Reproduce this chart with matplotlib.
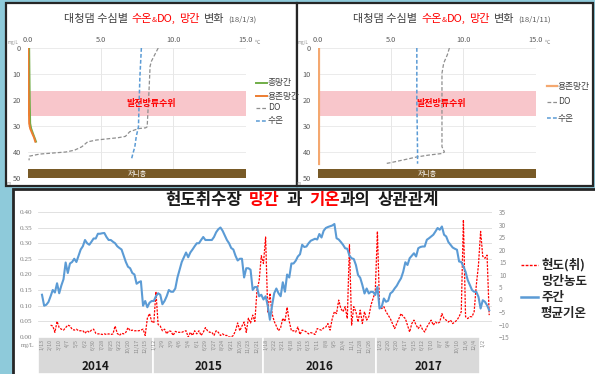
import numpy as np
import matplotlib
matplotlib.use('Agg')
import matplotlib.pyplot as plt
from matplotlib.patches import Rectangle
from matplotlib.lines import Line2D

plt.rcParams['font.family'] = ['Noto Sans CJK KR', 'DejaVu Sans']

# ---------------- depth profiles (18/1/3) ----------------
p1_tmn_depth = [0, 10, 20, 29, 31, 33, 34.5, 36]
p1_tmn = [0.08, 0.10, 0.12, 0.15, 0.22, 0.35, 0.45, 0.55]
p1_dmn_depth = [0, 10, 20, 29, 31, 33, 34.5, 36]
p1_dmn = [0.02, 0.03, 0.05, 0.08, 0.15, 0.30, 0.42, 0.50]
p1_do_depth = [0, 3.9, 5, 7, 14.8, 30.3, 30.7, 31, 32.2, 34, 34.5, 35.4, 36.1,
               38, 39.3, 40, 40.8, 41.6, 43.2]
p1_do = [8.96, 8.6, 8.5, 8.4, 8.34, 8.2, 8.1, 7.6, 7.0, 6.7, 6.2, 4.7, 4.1,
         3.7, 3.2, 2.6, 0.8, 0.1, 0.07]
p1_wt_depth = [0, 11, 20, 30.3, 34, 38, 41, 43.2]
p1_wt = [7.8, 7.7, 7.65, 7.6, 7.45, 7.35, 7.2, 7.1]

# ---------------- depth profiles (18/1/11) ----------------
p2_dmn_depth = [0, 44.5]
p2_dmn = [0.05, 0.05]
p2_do_depth = [0, 2.6, 5.8, 9.7, 38, 40, 40.6, 41.2, 41.9, 42.9, 44.1, 44.5]
p2_do = [9.04, 8.9, 8.65, 8.53, 8.53, 8.7, 8.5, 7.6, 6.8, 6.0, 5.0, 4.6]
p2_wt_depth = [0, 20, 40, 44.5]
p2_wt = [6.8, 6.8, 6.85, 6.85]

profile_xticks = [0, 5, 10, 15]
profile_xlabels = ['0.0', '5.0', '10.0', '15.0']
profile_yticks = [0, 10, 20, 30, 40, 50]

# ---------------- weekly series 2014-2017 ----------------
air_temp = [
    1.9, -2.5, -2.1, -1.0, 1.3, 3.8, 2.8, 6.5, 2.5, 5.6,
    8.1, 14.8, 10.6, 14.4, 15.0, 16.3, 15.0, 17.5, 20.0, 21.3,
    23.8, 22.5, 21.9, 23.1, 24.4, 24.4, 26.3, 26.3, 26.5, 26.6,
    25.0, 23.8, 23.8, 23.1, 22.5, 21.3, 20.6, 20.0, 17.5, 15.0,
    13.1, 12.5, 10.6, 10.0, 6.3, 6.9, 7.3, -2.5, -0.6, -3.1,
    -1.3, -0.6, -0.6, 1.3, 2.5, 1.9, -1.9, -0.6, 1.3, 3.8,
    3.1, 3.1, 4.4, 8.8, 11.9, 15.0, 16.9, 18.8, 16.9, 18.8,
    20.0, 21.3, 22.5, 22.5, 23.8, 25.0, 23.8, 23.8, 23.8, 23.8,
    25.0, 26.9, 28.1, 28.8, 27.5, 25.6, 23.8, 22.5, 20.6, 20.0,
    17.5, 15.6, 16.3, 16.3, 8.8, 12.5, 12.5, 11.9, 3.8, 5.0,
    5.0, 1.3, 1.9, 0.0, 1.3, -2.5, -8.1, -2.5, 2.5, 4.4,
    2.5, 1.3, 6.9, 3.1, 10.0, 8.8, 14.4, 14.4, 15.5, 17.2,
    18.1, 21.9, 21.0, 21.2, 22.5, 23.5, 23.9, 24.3, 24.0, 26.2,
    24.8, 27.5, 28.6, 29.0, 29.3, 29.6, 30.2, 24.5, 24.0, 23.0,
    21.9, 20.5, 20.3, 17.5, 16.5, 16.2, 13.8, 9.8, 8.7, 5.8,
    2.4, 4.4, 2.4, 3.1, 3.0, 1.8, 5.1, -3.6, -2.9, 0.4,
    -0.9, -0.5, 2.4, 3.1, 4.4, 5.5, 7.1, 8.5, 11.1, 14.9,
    13.8, 16.5, 17.5, 18.5, 17.2, 20.5, 21.0, 21.2, 21.2, 23.9,
    24.5, 25.2, 25.9, 27.2, 28.6, 27.9, 29.2, 25.9, 25.2, 23.0,
    21.9, 20.8, 20.3, 19.9, 15.2, 15.0, 13.2, 11.1, 7.8, 5.8,
    3.8, 3.1, 3.1, 1.1, -3.6, -0.3, -0.9, -2.3, -4.3,
]

mn_conc = [
    None, None, None, None, 0.038, 0.035, 0.015, 0.050, 0.030, 0.025,
    0.022, 0.030, 0.038, 0.035, 0.025, 0.022, 0.025, 0.020, 0.020, 0.020,
    0.012, 0.020, 0.015, 0.022, 0.025, 0.012, 0.010, 0.010, 0.008, 0.010,
    0.008, 0.010, 0.008, 0.010, 0.035, 0.012, 0.005, 0.012, 0.010, 0.015,
    0.030, 0.020, 0.022, 0.020, 0.020, 0.020, 0.022, 0.025, 0.005, 0.060,
    0.075, 0.050, 0.045, 0.145, 0.040, 0.035, 0.020, 0.025, 0.010, 0.020,
    0.018, 0.005, 0.018, 0.015, 0.015, 0.015, 0.018, 0.020, 0.000, 0.015,
    0.005, 0.020, 0.010, 0.020, 0.005, 0.015, 0.030, 0.020, 0.015, 0.015,
    0.005, 0.020, 0.015, 0.005, 0.010, 0.005, 0.005, 0.000, 0.000, 0.005,
    0.020, 0.045, 0.020, 0.035, 0.048, 0.015, 0.060, 0.045, 0.070, 0.050,
    0.150, 0.180, 0.260, 0.235, 0.320, 0.080, 0.140, 0.075, 0.050, 0.035,
    0.020, 0.030, 0.060, 0.050, 0.095, 0.050, 0.020, 0.020, 0.016, 0.032,
    0.008, 0.022, 0.020, 0.016, 0.010, 0.014, 0.012, 0.008, 0.027, 0.024,
    0.022, 0.029, 0.032, 0.043, 0.022, 0.059, 0.081, 0.075, 0.118, 0.091,
    0.081, 0.097, 0.059, 0.295, 0.038, 0.097, 0.081, 0.048, 0.086, 0.043,
    0.081, 0.054, 0.065, 0.102, 0.123, 0.145, 0.338, 0.097, 0.091, 0.097,
    0.081, 0.070, 0.059, 0.043, 0.027, 0.043, 0.059, 0.075, 0.065, 0.059,
    0.038, 0.016, 0.043, 0.054, 0.038, 0.027, 0.038, 0.024, 0.016, 0.032,
    0.043, 0.054, 0.038, 0.048, 0.043, 0.048, 0.075, 0.059, 0.054, 0.048,
    0.054, 0.043, 0.048, 0.054, 0.065, 0.081, 0.375, 0.065, 0.059, 0.065,
    0.065, 0.081, 0.166, 0.230, 0.338, 0.258, 0.252, 0.262, 0.070,
]

years = ['2014', '2015', '2016', '2017']
week_labels = [
    ['1/13', '2/10', '3/10', '4/7', '5/5', '6/2', '6/30', '7/28', '8/25',
     '9/22', '10/20', '11/17', '12/15'],
    ['1/12', '2/9', '3/9', '4/6', '5/4', '6/1', '6/29', '7/27', '8/24',
     '9/21', '10/26', '11/23', '12/21'],
    ['1/18', '2/22', '3/21', '4/18', '5/16', '6/13', '7/11', '8/8', '9/5',
     '10/4', '11/1', '11/28', '12/26'],
    ['1/23', '2/20', '3/20', '4/17', '5/15', '6/12', '7/10', '8/7', '9/4',
     '10/10', '11/6', '12/4', '1/2'],
]
mn_ticks = [0.00, 0.05, 0.10, 0.15, 0.20, 0.25, 0.30, 0.35, 0.40]
temp_ticks = [-15, -10, -5, 0, 5, 10, 15, 20, 25, 30, 35]

# ---------------- figure ----------------
W, H = 595, 374
fig = plt.figure(figsize=(W / 100, H / 100), dpi=100)
fig.patch.set_facecolor('#8ECADA')
renderer = fig.canvas.get_renderer()

RED = '#FF0000'
DARK = '#404040'


def box(x0, y0, x1, y1):
    return [x0 / W, 1 - y1 / H, (x1 - x0) / W, (y1 - y0) / H]


def fy(y):
    return 1 - y / H


def frame(x0, y0, x1, y1, lw=1.6):
    fig.add_artist(Rectangle((x0 / W, 1 - y1 / H), (x1 - x0) / W, (y1 - y0) / H,
                             transform=fig.transFigure, facecolor='white',
                             edgecolor='#262626', lw=lw, zorder=-5))


def rich_text(xc, yb, parts):
    """Lay out coloured text runs side by side, centred on xc (px)."""
    items, total = [], 0.0
    for p in parts:
        if isinstance(p, (int, float)):
            items.append((None, p))
            total += p
        else:
            s, kw = p
            t = fig.text(0, 0, s, ha='left', va='baseline', **kw)
            w = t.get_window_extent(renderer).width
            items.append((t, w))
            total += w
    x = xc - total / 2
    for t, w in items:
        if t is not None:
            t.set_position((x / W, fy(yb)))
        x += w


def legend_line(x0, x1, y, xt, label, fs, **line_kw):
    fig.add_artist(Line2D([x0 / W, x1 / W], [fy(y), fy(y)], **line_kw))
    fig.text(xt / W, fy(y), label, fontsize=fs, color=DARK, va='center', ha='left')


frame(6, 3, 297, 186)
frame(297, 3, 593, 186)
frame(13, 189, 600, 380, lw=2.0)


def depth_panel(x0, x1, series):
    ax = fig.add_axes(box(x0, 48, x1, 178))
    ax.set_facecolor('none')
    ax.set_xlim(0, 15)
    ax.set_ylim(50, 0)
    for v in profile_xticks[1:]:
        ax.axvline(v, color='#E3E3E3', lw=0.6, zorder=0)
    for d in profile_yticks[:-1]:
        ax.axhline(d, color='#E8E8E8', lw=0.6, zorder=0)
    ax.axhspan(16.5, 26, color='#F8C6CB', lw=0, zorder=1)
    ax.axhspan(46.5, 50, color='#785A27', lw=0, zorder=1)
    ax.text(7.5, 48.3, '저니층', color='white', fontsize=5, ha='center',
            va='center', zorder=6)
    ax.text(8.5, 21.3, '발전방류수위', color=RED, weight='bold', fontsize=6.5,
            ha='center', va='center', zorder=6)
    for vals, depth, kw in series:
        ax.plot(vals, depth, zorder=4, **kw)
    ax.xaxis.tick_top()
    ax.set_xticks(profile_xticks)
    ax.set_xticklabels(profile_xlabels)
    ax.set_yticks(profile_yticks)
    ax.tick_params(length=0, labelsize=5.3, labelcolor='#595959')
    ax.tick_params(axis='x', pad=3)
    ax.tick_params(axis='y', pad=5)
    for s in ax.spines.values():
        s.set_visible(False)
    ax.text(-0.62, -1.3, 'mg/L', fontsize=3.2, color='#8C8C8C', ha='right',
            va='bottom', clip_on=False)
    ax.text(15.6, -1.3, '℃', fontsize=3.8, color='#8C8C8C', ha='left',
            va='bottom', clip_on=False)
    ax.text(-1.3, 52.2, 'm', fontsize=3.3, color='#8C8C8C', ha='center',
            va='center', clip_on=False)
    return ax


GREEN = '#70AD47'
ORANGE = '#ED7D31'
LORANGE = '#F4A870'
GREY = '#8F8F8F'
BLUE = '#5B9BD5'
dash_grey = dict(color=GREY, lw=0.9, ls=(0, (3, 1.6)))
dash_blue = dict(color=BLUE, lw=1.1, ls=(0, (2.5, 1.4)))

depth_panel(28, 246, [
    (p1_tmn, p1_tmn_depth, dict(color=GREEN, lw=1.4)),
    (p1_dmn, p1_dmn_depth, dict(color=ORANGE, lw=1.4)),
    (p1_do, p1_do_depth, dash_grey),
    (p1_wt, p1_wt_depth, dash_blue),
])
depth_panel(318, 536, [
    (p2_dmn, p2_dmn_depth, dict(color=LORANGE, lw=1.6)),
    (p2_do, p2_do_depth, dash_grey),
    (p2_wt, p2_wt_depth, dash_blue),
])

for xc, date in [(160, '(18/1/3)'), (452, '(18/1/11)')]:
    rich_text(xc, 22, [
        ('대청댐 수심별', dict(fontsize=8, color=DARK)), 4,
        ('수온', dict(fontsize=8, color=RED)),
        ('&', dict(fontsize=5.5, color=RED)),
        ('DO,', dict(fontsize=8, color=RED)), 3,
        ('망간', dict(fontsize=8, color=RED)), 4,
        ('변화', dict(fontsize=8, color=DARK)), 4,
        (date, dict(fontsize=5.5, color='#595959')),
    ])

legend_line(256, 267, 83, 268, '총망간', 6.3, color=GREEN, lw=1.4)
legend_line(256, 267, 96, 268, '용존망간', 6.3, color=ORANGE, lw=1.4)
legend_line(256, 267, 108, 268, 'DO', 6.3, **dash_grey)
legend_line(256, 267, 121, 268, '수온', 6.3, **dash_blue)

legend_line(547, 557, 86, 558, '용존망간', 6.3, color=LORANGE, lw=1.6)
legend_line(547, 557, 102, 558, 'DO', 6.3, **dash_grey)
legend_line(547, 557, 118, 558, '수온', 6.3, **dash_blue)

# ---------------- weekly chart ----------------
weeks = np.arange(len(air_temp))
mn_arr = np.array(mn_conc, dtype=float)
xlim = (-1.86, 209.3)

ax = fig.add_axes(box(38, 212, 492, 337))
ax.set_facecolor('none')
ax.set_xlim(*xlim)
ax.set_ylim(0, 0.40)
ax.set_yticks(mn_ticks)
ax.set_yticklabels([f'{v:.2f}' for v in mn_ticks])
ax.grid(axis='y', color='#DCDCDC', lw=0.6)
ax.set_axisbelow(True)
ax.set_xticks([])
ax.tick_params(axis='y', length=0, labelsize=5.2, labelcolor='#7F7F7F', pad=4)
for lab in ax.get_yticklabels():
    lab.set_family('Liberation Serif')
ax.plot(weeks, mn_arr, color=RED, lw=0.9, ls=(0, (1.8, 1.0)))

tx = ax.twinx()
tx.set_xlim(*xlim)
tx.set_ylim(-15, 35)
tx.set_yticks(temp_ticks)
tx.tick_params(axis='y', length=0, labelsize=4.6, labelcolor='#8C8C8C', pad=5)
tx.plot(weeks, air_temp, color=BLUE, lw=1.5)
for a in (ax, tx):
    for s in a.spines.values():
        s.set_visible(False)

fig.text(28 / W, fy(345), 'mg/L', fontsize=4.5, family='Liberation Serif',
         color='#7F7F7F', ha='center', va='center')

band = fig.add_axes(box(38, 337, 492, 374))
band.set_xlim(*xlim)
band.set_ylim(0, 1)
band.axis('off')
year_edges = [xlim[0], 51.5, 103.0, 155.5, 203.7]
year_first = [0, 52, 104, 157]
for i, yr in enumerate(years):
    band.add_patch(Rectangle((year_edges[i], 0), year_edges[i + 1] - year_edges[i], 1,
                             facecolor='#D9D9D9', edgecolor='white', lw=1.2))
    band.text((year_edges[i] + year_edges[i + 1]) / 2, 0.2, yr, ha='center',
              va='center', fontsize=8.5, weight='bold', color='#1A1A1A')
    for k, lab in enumerate(week_labels[i]):
        band.text(year_first[i] + 4 * k, 0.95, lab, rotation=90, ha='center',
                  va='top', fontsize=3.8, color='#8A8A8A')

bold = dict(fontsize=12, weight='bold', color='#1A1A1A')
bold_red = dict(fontsize=12, weight='bold', color=RED)
rich_text(302, 205, [
    ('현도취수장', bold), 7,
    ('망간', bold_red), 7,
    ('과', bold), 7,
    ('기온', bold_red),
    ('과의', bold), 7,
    ('상관관계', bold),
])

fig.add_artist(Line2D([521 / W, 538 / W], [fy(265), fy(265)], color=RED, lw=1.0,
                      ls=(0, (2, 1))))
fig.add_artist(Line2D([521 / W, 538 / W], [fy(297), fy(297)], color=BLUE, lw=1.8))
leg_kw = dict(fontsize=9, weight='bold', color='#262626', va='center', ha='left')
fig.text(541 / W, fy(265), '현도(취)', **leg_kw)
fig.text(541 / W, fy(282), '망간농도', **leg_kw)
fig.text(541 / W, fy(297), '주간', **leg_kw)
fig.text(541 / W, fy(313), '평균기온', **leg_kw)

fig.savefig('out.png', dpi=100)
